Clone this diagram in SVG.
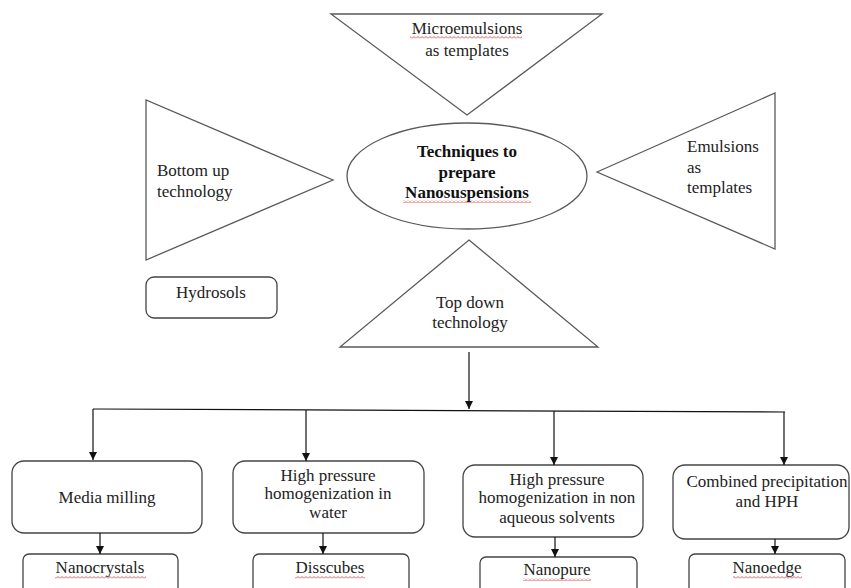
<svg xmlns="http://www.w3.org/2000/svg" width="851" height="588" viewBox="0 0 851 588">
<style>
.sh{fill:#fff;stroke:#5a5a5a;stroke-width:1.3}
.bx{fill:#fff;stroke:#444;stroke-width:1.3}
.t{font-family:"Liberation Serif","Times New Roman",serif;font-size:17px;fill:#222}
.c{text-anchor:middle}
.b{font-weight:bold;fill:#111}
.ln{stroke:#111;stroke-width:1.2;fill:none}
.sq{fill:url(#wave)}
</style>
<defs>
<marker id="ah" viewBox="0 0 10 10" refX="10" refY="5" markerWidth="8" markerHeight="8" markerUnits="userSpaceOnUse" orient="auto">
<path d="M0,0 L10,5 L0,10 Z" fill="#111"/>
</marker>
<pattern id="wave" width="4" height="3" patternUnits="userSpaceOnUse">
<path d="M0,2.5 L2,0.5 L4,2.5" fill="none" stroke="#d03030" stroke-width="0.8"/>
</pattern>
</defs>
<g id="node-microemulsions">
<polygon class="sh" points="331,14 602,14 467,115"/>
<text class="t c" x="467" y="34">Microemulsions</text>
<text class="t c" x="467" y="56">as templates</text>
<rect class="sq" x="410" y="36" width="112" height="3"/>
</g>
<g id="node-bottomup">
<polygon class="sh" points="146,100 146,260 333,180"/>
<text class="t" x="157" y="176">Bottom up</text>
<text class="t" x="157" y="197">technology</text>
</g>
<g id="node-center">
<ellipse class="sh" cx="467" cy="176" rx="120" ry="53"/>
<text class="t c b" x="467" y="157">Techniques to</text>
<text class="t c b" x="467" y="178">prepare</text>
<text class="t c b" x="467" y="198">Nanosuspensions</text>
<rect class="sq" x="403" y="200" width="128" height="3"/>
</g>
<g id="node-emulsions">
<polygon class="sh" points="597,172 775,93 775,249"/>
<text class="t" x="687" y="152">Emulsions</text>
<text class="t" x="687" y="173">as</text>
<text class="t" x="687" y="193">templates</text>
</g>
<g id="node-hydrosols">
<rect class="bx" x="146" y="277" width="131" height="41" rx="8"/>
<text class="t c" x="211" y="298">Hydrosols</text>
</g>
<g id="node-topdown">
<polygon class="sh" points="469,240 598,347 340,347"/>
<text class="t c" x="470" y="308">Top down</text>
<text class="t c" x="470" y="328">technology</text>
</g>
<g id="node-media">
<rect class="bx" x="12" y="461" width="190" height="72" rx="12"/>
<text class="t c" x="107" y="503">Media milling</text>
</g>
<g id="node-hphwater">
<rect class="bx" x="233" y="461" width="191" height="72" rx="12"/>
<text class="t c" x="328" y="481">High pressure</text>
<text class="t c" x="328" y="499">homogenization in</text>
<text class="t c" x="328" y="518">water</text>
</g>
<g id="node-hphnon">
<rect class="bx" x="463" y="465" width="180" height="72" rx="12"/>
<text class="t c" x="557" y="485">High pressure</text>
<text class="t c" x="557" y="503">homogenization in non</text>
<text class="t c" x="557" y="523">aqueous solvents</text>
</g>
<g id="node-combined">
<rect class="bx" x="673" y="465" width="176" height="74" rx="12"/>
<text class="t c" x="767" y="487">Combined precipitation</text>
<text class="t c" x="767" y="507">and HPH</text>
</g>
<g id="node-nanocrystals">
<rect class="bx" x="23" y="554" width="155" height="40" rx="6"/>
<text class="t c" x="100" y="573">Nanocrystals</text>
<rect class="sq" x="55" y="576" width="91" height="3"/>
</g>
<g id="node-disscubes">
<rect class="bx" x="253" y="554" width="156" height="40" rx="6"/>
<text class="t c" x="330" y="573">Disscubes</text>
<rect class="sq" x="295" y="576" width="70" height="3"/>
</g>
<g id="node-nanopure">
<rect class="bx" x="480" y="557" width="157" height="40" rx="6"/>
<text class="t c" x="557" y="575">Nanopure</text>
<rect class="sq" x="523" y="578" width="68" height="3"/>
</g>
<g id="node-nanoedge">
<rect class="bx" x="689" y="554" width="156" height="40" rx="6"/>
<text class="t c" x="767" y="573">Nanoedge</text>
<rect class="sq" x="733" y="576" width="69" height="3"/>
</g>
<g id="connectors">
<line class="ln" x1="469" y1="352" x2="469" y2="409" marker-end="url(#ah)"/>
<line class="ln" x1="93" y1="409" x2="785" y2="412"/>
<line class="ln" x1="93" y1="409" x2="93" y2="460" marker-end="url(#ah)"/>
<line class="ln" x1="306" y1="410" x2="306" y2="461" marker-end="url(#ah)"/>
<line class="ln" x1="554" y1="411" x2="554" y2="465" marker-end="url(#ah)"/>
<line class="ln" x1="784" y1="412" x2="784" y2="465" marker-end="url(#ah)"/>
<line class="ln" x1="100" y1="533" x2="100" y2="554" marker-end="url(#ah)"/>
<line class="ln" x1="323" y1="533" x2="323" y2="554" marker-end="url(#ah)"/>
<line class="ln" x1="555" y1="537" x2="555" y2="557" marker-end="url(#ah)"/>
<line class="ln" x1="775" y1="539" x2="775" y2="554" marker-end="url(#ah)"/>
</g>
</svg>
